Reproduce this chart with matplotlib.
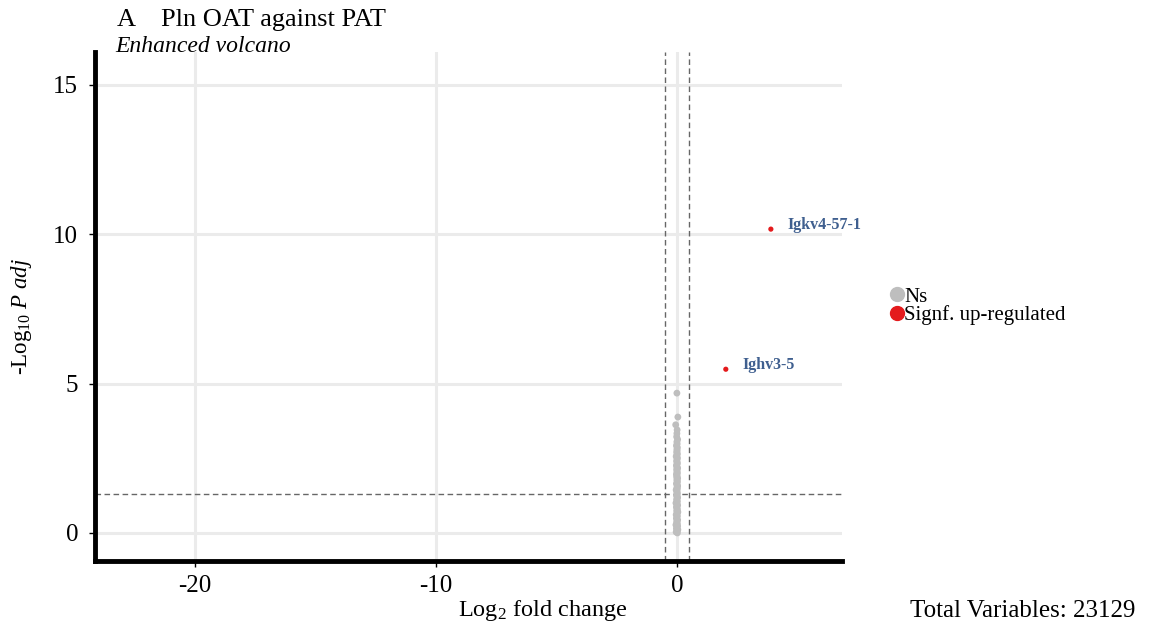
import matplotlib.pyplot as plt
from matplotlib.lines import Line2D

plt.rcParams['font.family'] = ['Liberation Serif', 'DejaVu Serif']
plt.rcParams['mathtext.fontset'] = 'custom'
plt.rcParams['mathtext.rm'] = 'Liberation Serif'
plt.rcParams['mathtext.it'] = 'Liberation Serif:italic'
plt.rcParams['axes.unicode_minus'] = False

# non-significant genes (log2FC, -log10 padj)
ns_fc = [0.02, -0.03, 0.01, 0.04, -0.02, 0.00, 0.03, -0.04, 0.02, -0.01,
         0.01, 0.03, -0.02, 0.00, 0.02, -0.03, 0.01, 0.04, -0.01, 0.02,
         0.00, -0.02, 0.03, 0.01, -0.04, 0.02, 0.00, -0.01, 0.03, 0.01,
         -0.02, 0.02, 0.00, 0.01, -0.03, 0.02, 0.00, 0.03, 0.01, -0.02,
         0.02, 0.01, 0.00, 0.03, -0.01, 0.01, -0.02, 0.02, 0.00, 0.01,
         -0.01, 0.03, 0.00, -0.02, 0.01, 0.02, -0.01, 0.00, 0.01, 0.02,
         -0.03, 0.00, 0.02, -0.01, 0.01, 0.00, 0.02, -0.02, 0.01, 0.00,
         0.03, -0.01, 0.00, 0.01, -0.05, 0.04, 0.00]
ns_p = [0.00, 0.03, 0.07, 0.11, 0.14, 0.19, 0.23, 0.27, 0.31, 0.36,
        0.40, 0.44, 0.48, 0.53, 0.57, 0.61, 0.66, 0.70, 0.74, 0.79,
        0.83, 0.87, 0.92, 0.96, 1.00, 1.05, 1.09, 1.13, 1.18, 1.22,
        1.26, 1.31, 1.35, 1.39, 1.44, 1.48, 1.52, 1.57, 1.61, 1.65,
        1.70, 1.74, 1.78, 1.83, 1.87, 1.91, 1.96, 2.00, 2.04, 2.09,
        2.13, 2.17, 2.22, 2.26, 2.30, 2.35, 2.39, 2.43, 2.48, 2.52,
        2.56, 2.61, 2.65, 2.70, 2.75, 2.80, 2.86, 2.92, 2.98, 3.05,
        3.13, 3.22, 3.33, 3.45, 3.62, 3.88, 4.68]

# significant up-regulated genes
up_genes = ['Igkv4-57-1', 'Ighv3-5']
up_fc = [3.90, 2.03]
up_p = [10.17, 5.48]

fc_cut = 0.5
p_cut = 1.301
total_vars = 23129

fig = plt.figure(figsize=(11.57, 6.3), dpi=100)
ax = fig.add_axes([0.0821, 0.1095, 0.6456, 0.808])

ax.set_xlim(-24.15, 6.85)
ax.set_ylim(-0.94, 16.1)
ax.set_xticks([-20, -10, 0])
ax.set_yticks([0, 5, 10, 15])
ax.grid(True, color='#ebebeb', linewidth=2.2)
ax.set_axisbelow(True)

for s in ['top', 'right']:
    ax.spines[s].set_visible(False)
for s in ['left', 'bottom']:
    ax.spines[s].set_linewidth(3.5)
    ax.spines[s].set_color('black')
ax.tick_params(length=4, width=1, labelsize=18, colors='black', pad=8)
ax.tick_params(axis='x', pad=6)

dash = (0, (4, 2.5))
ax.axvline(-fc_cut, color='#666666', linestyle=dash, linewidth=1)
ax.axvline(fc_cut, color='#666666', linestyle=dash, linewidth=1)
ax.axhline(p_cut, color='#666666', linestyle=dash, linewidth=1)

ax.scatter(ns_fc, ns_p, s=24, color='#bebebe', edgecolors='none', zorder=3)
ax.scatter(up_fc, up_p, s=14, color='#e41a1c', edgecolors='none', zorder=3)
for g, x, y in zip(up_genes, up_fc, up_p):
    ax.annotate(g, (x, y), xytext=(12, 3), textcoords='offset points',
                fontsize=11.5, fontweight='bold', color='#3f5f8f', va='center')

ax.set_xlabel(r'Log$_2$ fold change', fontsize=17.5)
ax.xaxis.set_label_coords(0.6, -0.072)
ax.set_ylabel(r'-Log$_{10}$ $\it{P\ adj}$', fontsize=16.5)
ax.yaxis.set_label_coords(-0.082, 0.48)

fig.text(0.101, 0.958, 'A    Pln OAT against PAT', fontsize=19)
fig.text(0.1, 0.918, 'Enhanced volcano', fontsize=17, style='italic')

handles = [Line2D([], [], marker='o', linestyle='', markersize=10, color='#bebebe'),
           Line2D([], [], marker='o', linestyle='', markersize=10, color='#e41a1c')]
fig.legend(handles, ['Ns', 'Signf. up-regulated'], loc='center left',
           bbox_to_anchor=(0.750, 0.514), frameon=False, fontsize=15,
           handletextpad=-0.15, labelspacing=-0.05, handlelength=1.0)

fig.text(0.981, 0.02, f'Total Variables: {total_vars}', fontsize=18, ha='right')

fig.savefig('out.png', dpi=100)
